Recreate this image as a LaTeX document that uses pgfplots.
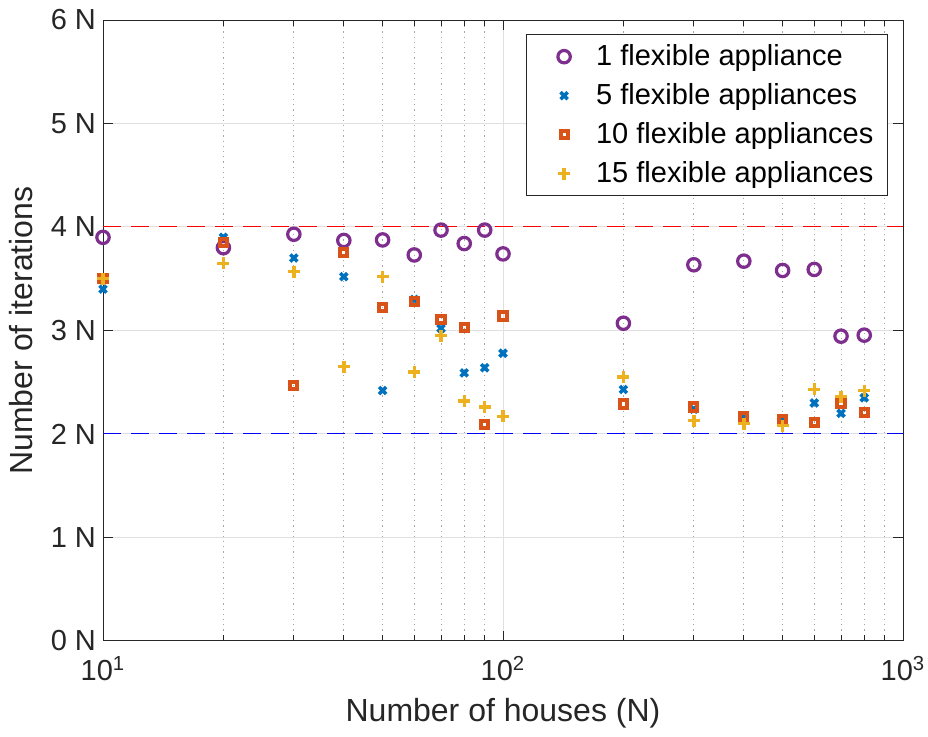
\documentclass[border=0pt]{standalone}
\usepackage{fontspec}
\setmainfont{Liberation Sans}
\usepackage{pgfplots}
\pgfplotsset{compat=1.18}
\definecolor{cA}{rgb}{0.494,0.184,0.556}
\definecolor{cB}{rgb}{0,0.447,0.741}
\definecolor{cC}{rgb}{0.850,0.325,0.098}
\definecolor{cD}{rgb}{0.929,0.694,0.125}
\definecolor{axgray}{rgb}{0.15,0.15,0.15}
\begin{document}
\begin{tikzpicture}
\useasboundingbox (-51.5pt,-48pt) rectangle (412.5pt,320.5pt);
\begin{axis}[
  scale only axis, width=400pt, height=310.5pt,
  xmode=log, xmin=10, xmax=1000, ymin=0, ymax=6,
  xtick={10,100,1000},
  xticklabels={10\textsuperscript{1},10\textsuperscript{2},10\textsuperscript{3}},
  ytick={0,1,2,3,4,5,6},
  yticklabels={0 N,1 N,2 N,3 N,4 N,5 N,6 N},
  tick align=inside, major tick length=5pt, minor tick length=3pt,
  grid=both,
  major grid style={black!12, line width=0.5pt},
  minor grid style={black!35, dash pattern=on 0.6pt off 2pt, line width=0.5pt},
  axis line style={axgray, line width=0.5pt},
  tick style={axgray, line width=0.5pt},
  ticklabel style={font=\fontsize{14.5}{17}\selectfont, text=axgray},
  xticklabel style={yshift=-4pt},
  xlabel={Number of houses (N)}, ylabel={Number of iterations},
  label style={font=\fontsize{16}{19}\selectfont, text=axgray},
  xlabel style={yshift=-2pt},
  ylabel style={yshift=2pt},
  legend cell align=left,
  legend image code/.code={\pgfpathrectangle{\pgfqpoint{0pt}{-3pt}}{\pgfqpoint{28pt}{6pt}}\pgfusepath{discard}\draw[mark repeat=1,#1] plot coordinates {(14pt,0pt)};},
  legend style={at={(0.981,0.977)}, anchor=north east, draw=axgray,
    font=\fontsize{14.5}{17}\selectfont, row sep=3.5pt, inner xsep=5pt, inner ysep=3pt},
]
\addplot[only marks, mark=o, mark size=3.1pt, line width=1.6pt, color=cA] coordinates {
(10,3.90) (20,3.80) (30,3.93) (40,3.87) (50,3.875) (60,3.73) (70,3.97) (80,3.84) (90,3.97) (100,3.74)
(200,3.07) (300,3.635) (400,3.67) (500,3.58) (600,3.59) (700,2.945) (800,2.955)};
\addlegendentry{1 flexible appliance}
\addplot[only marks, mark=x, mark size=2.5pt, line width=1.8pt, color=cB] coordinates {
(10,3.40) (20,3.90) (30,3.70) (40,3.52) (50,2.42) (60,3.30) (70,3.02) (80,2.59) (90,2.64) (100,2.78)
(200,2.43) (300,2.24) (400,2.17) (500,2.14) (600,2.30) (700,2.20) (800,2.35)};
\addlegendentry{5 flexible appliances}
\addplot[only marks, mark=square, mark size=1.8pt, line width=2pt, color=cC] coordinates {
(10,3.50) (20,3.85) (30,2.47) (40,3.75) (50,3.22) (60,3.28) (70,3.11) (80,3.03) (90,2.09) (100,3.14)
(200,2.29) (300,2.26) (400,2.17) (500,2.14) (600,2.11) (700,2.30) (800,2.21)};
\addlegendentry{10 flexible appliances}
\addplot[only marks, mark=+, mark size=3pt, line width=1.7pt, color=cD] coordinates {
(10,3.50) (20,3.65) (30,3.57) (40,2.65) (50,3.52) (60,2.60) (70,2.95) (80,2.32) (90,2.26) (100,2.17)
(200,2.55) (300,2.13) (400,2.10) (500,2.08) (600,2.43) (700,2.36) (800,2.42)};
\addlegendentry{15 flexible appliances}
\addplot[red, dash pattern=on 9pt off 5pt, line width=0.5pt, forget plot] coordinates {(10,4) (1000,4)};
\addplot[blue, dash pattern=on 9pt off 5pt, line width=0.5pt, forget plot] coordinates {(10,2) (1000,2)};
\end{axis}
\end{tikzpicture}
\end{document}
